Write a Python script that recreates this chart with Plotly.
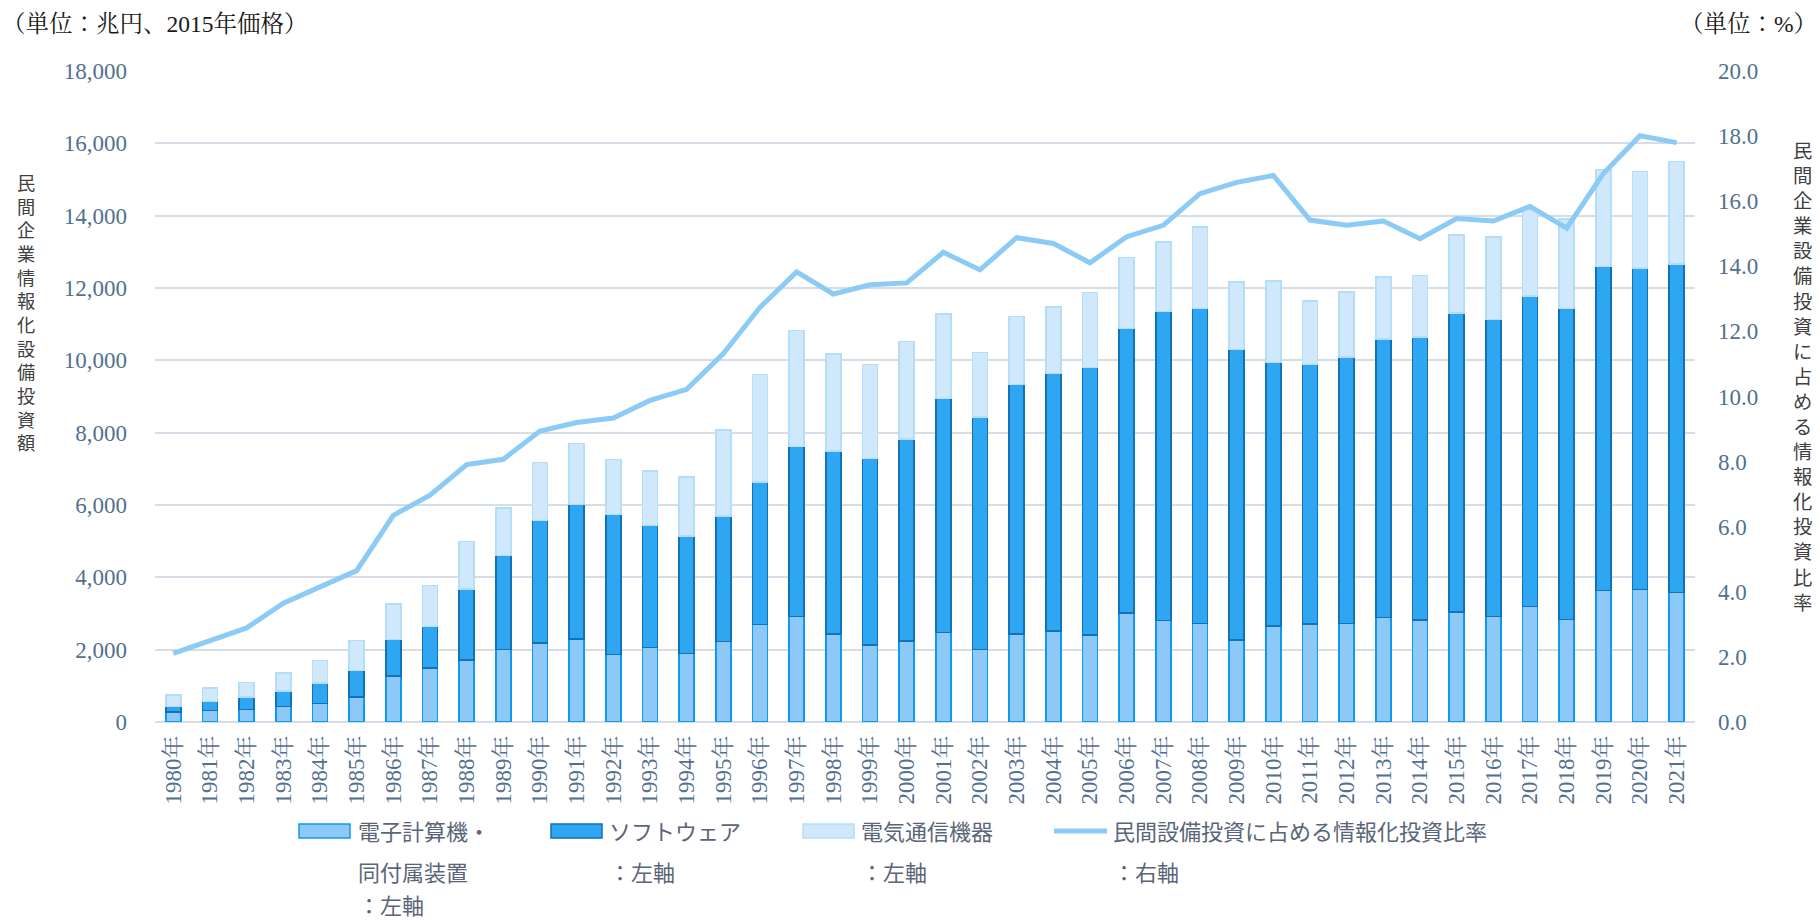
import plotly.graph_objects as go

# Categories: fiscal years 1980-2021
years = [f"{y}年" for y in range(1980, 2022)]

# Private-sector IT investment (left axis, 2015 prices)
computer = [280, 320, 350, 430, 510, 690, 1270, 1500, 1720, 2000,
            2180, 2300, 1870, 2060, 1890, 2220, 2690, 2920, 2440, 2130,
            2240, 2480, 2000, 2440, 2520, 2410, 3020, 2810, 2720, 2270,
            2660, 2710, 2730, 2890, 2820, 3040, 2920, 3200, 2830, 3640,
            3660, 3580]
software = [150, 250, 340, 430, 570, 730, 1010, 1140, 1960, 2600,
            3390, 3710, 3870, 3370, 3250, 3470, 3950, 4700, 5050, 5150,
            5590, 6460, 6440, 6890, 7110, 7390, 7860, 8540, 8720, 8030,
            7280, 7180, 7360, 7700, 7820, 8270, 8210, 8580, 8610, 8950,
            8890, 9090]
telecom = [320, 370, 400, 500, 620, 830, 980, 1140, 1310, 1320,
           1600, 1690, 1520, 1510, 1640, 2390, 2970, 3210, 2690, 2600,
           2690, 2340, 1780, 1880, 1840, 2080, 1970, 1920, 2250, 1870,
           2260, 1750, 1800, 1710, 1700, 2160, 2280, 2390, 2470, 2680,
           2670, 2830]

# Share of IT investment in private capital investment (right axis, %)
ratio = [2.11, 2.52, 2.89, 3.65, 4.14, 4.65, 6.35, 6.97, 7.91, 8.07,
         8.94, 9.20, 9.34, 9.88, 10.22, 11.32, 12.74, 13.83, 13.15, 13.43,
         13.49, 14.43, 13.89, 14.88, 14.70, 14.11, 14.91, 15.26, 16.23, 16.58,
         16.79, 15.42, 15.26, 15.39, 14.85, 15.47, 15.39, 15.84, 15.17, 16.85,
         18.01, 17.80]

legend_items = ["電子計算機・同付属装置：左軸", "ソフトウェア：左軸",
                "電気通信機器：左軸", "民間設備投資に占める情報化投資比率：右軸"]

# Page geometry (pixels)
W, H = 1820, 922
L, R, T, B = 155, 125, 71, 200
PW, PH = W - L - R, H - T - B


def px(x):
    return (x - L) / PW


def py(y):
    return (H - B - y) / PH


SERIF = "Liberation Serif, Noto Serif CJK JP, Noto Sans CJK JP"
SANS = "Noto Sans CJK JP, Noto Sans, sans-serif"
TICK_COLOR = "#52708F"
GRID = "#D6DDE6"

C_COMP = ("#8DC8F6", "#0E9AEF")
C_SOFT = ("#2EA6F2", "#1172B6")
C_TEL = ("#CFE8FB", "#B6DDF8")
C_LINE = "#8BCBF6"

fig = go.Figure()
fig.add_bar(x=years, y=computer, name=legend_items[0],
            marker=dict(color=C_COMP[0], line=dict(color=C_COMP[1], width=1.5)),
            showlegend=False)
fig.add_bar(x=years, y=software, name=legend_items[1],
            marker=dict(color=C_SOFT[0], line=dict(color=C_SOFT[1], width=1.5)),
            showlegend=False)
fig.add_bar(x=years, y=telecom, name=legend_items[2],
            marker=dict(color=C_TEL[0], line=dict(color=C_TEL[1], width=1.5)),
            showlegend=False)
fig.add_scatter(x=years, y=ratio, name=legend_items[3], mode="lines",
                line=dict(color=C_LINE, width=5), yaxis="y2", showlegend=False)

annotations = []
shapes = []

# Unit captions
annotations.append(dict(text="（単位：兆円、2015年価格）", x=px(0), y=py(24),
                        xref="paper", yref="paper", xanchor="left", yanchor="middle",
                        showarrow=False, font=dict(family=SERIF, size=23.5, color="#1A1A1A")))
annotations.append(dict(text="（単位：%）", x=px(1819), y=py(24),
                        xref="paper", yref="paper", xanchor="right", yanchor="middle",
                        showarrow=False, font=dict(family=SERIF, size=23.5, color="#1A1A1A")))


# Vertical axis titles, stacked one character per line
def vertical_title(text, cx, cy, size):
    annotations.append(dict(text="<br>".join(text), x=px(cx), y=py(cy),
                            xref="paper", yref="paper", xanchor="center",
                            yanchor="middle", showarrow=False, align="center",
                            font=dict(family=SANS, size=size, color="#404040")))


vertical_title("民間企業情報化設備投資額", 26, 312, 18.2)
vertical_title("民間企業設備投資に占める情報化投資比率", 1803, 376, 19.3)

# Legend drawn below the plot
LEG_FONT = dict(family=SANS, size=22, color="#5A6678")


def leg_text(text, x, y, anchor="middle"):
    annotations.append(dict(text=text, x=px(x), y=py(y), xref="paper", yref="paper",
                            xanchor="left", yanchor=anchor, showarrow=False,
                            font=LEG_FONT))


def leg_box(x0, x1, colors):
    shapes.append(dict(type="rect", xref="paper", yref="paper",
                       x0=px(x0), x1=px(x1), y0=py(838), y1=py(824),
                       fillcolor=colors[0], line=dict(color=colors[1], width=1.5)))


leg_box(299, 350, C_COMP)
leg_text("電子計算機・", 356, 830)
leg_text("同付属装置", 356, 871)
leg_text("：左軸", 356, 922, anchor="bottom")

leg_box(551, 602, C_SOFT)
leg_text("ソフトウェア", 607, 830)
leg_text("：左軸", 607, 871)

leg_box(803, 854, C_TEL)
leg_text("電気通信機器", 859, 830)
leg_text("：左軸", 859, 871)

shapes.append(dict(type="line", xref="paper", yref="paper",
                   x0=px(1054), x1=px(1107), y0=py(831), y1=py(831),
                   line=dict(color=C_LINE, width=5)))
leg_text("民間設備投資に占める情報化投資比率", 1111, 830)
leg_text("：右軸", 1111, 871)

fig.update_layout(
    width=W, height=H,
    margin=dict(l=L, r=R, t=T, b=B, autoexpand=False),
    barmode="stack", bargap=0.59,
    plot_bgcolor="white", paper_bgcolor="white",
    showlegend=False,
    xaxis=dict(type="category", tickangle=-90, showgrid=False, showline=False,
               ticks="", ticklabelstandoff=8, automargin=False,
               tickfont=dict(family=SERIF, size=23, color=TICK_COLOR)),
    yaxis=dict(range=[0, 18000], dtick=2000, tickformat=",", showgrid=True,
               gridcolor=GRID, gridwidth=2, zeroline=True, zerolinecolor=GRID,
               zerolinewidth=2, showline=False, ticks="", ticklabelstandoff=27,
               automargin=False,
               tickfont=dict(family=SERIF, size=23, color=TICK_COLOR)),
    yaxis2=dict(range=[0, 20], dtick=2, tickformat=".1f", overlaying="y", side="right",
                showgrid=False, zeroline=False, showline=False, ticks="",
                ticklabelstandoff=22, automargin=False,
                tickfont=dict(family=SERIF, size=23, color=TICK_COLOR)),
    annotations=annotations,
    shapes=shapes,
)

fig.write_html("out.html")
